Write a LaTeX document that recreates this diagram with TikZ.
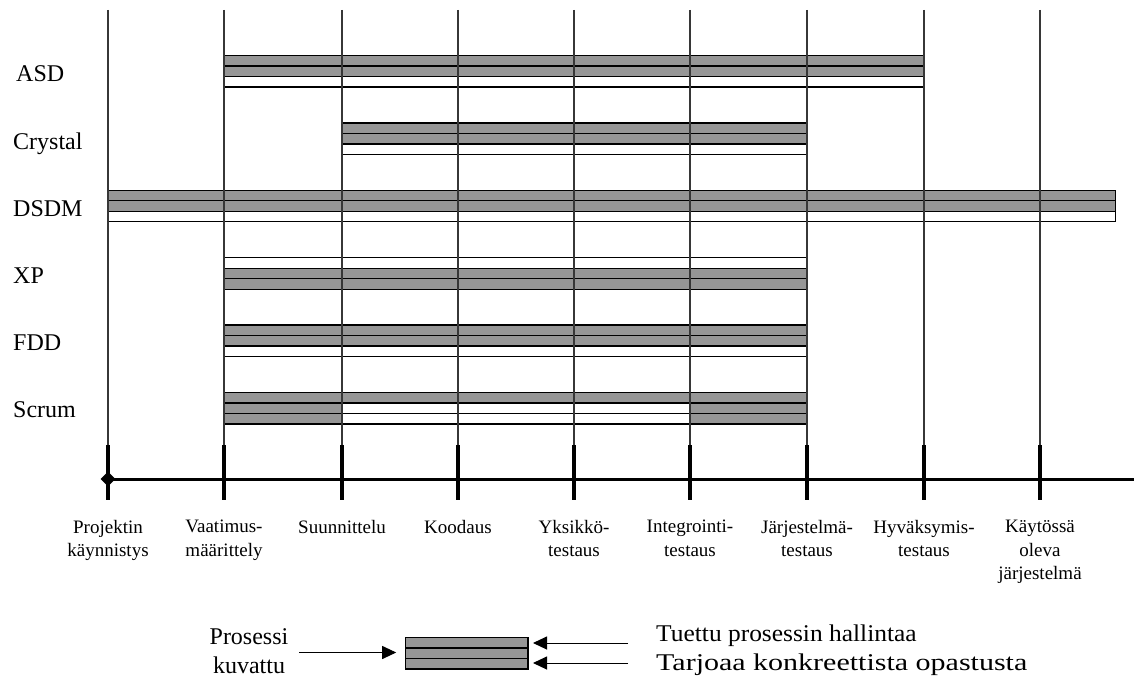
\documentclass[tikz,border=0pt]{standalone}
\usepackage{fontspec}
\setmainfont{Liberation Serif}
\usetikzlibrary{arrows.meta,shapes.geometric}
\definecolor{barfill}{RGB}{150,150,150}
\definecolor{gridline}{RGB}{55,55,55}

\begin{document}
\begin{tikzpicture}[x=1pt,y=-1pt,
  phase/.style={draw=gridline, line width=1.2pt},
  tickmark/.style={line width=3.5pt},
  axisline/.style={line width=3pt},
  cellon/.style={draw=black, line width=1.3pt, fill=barfill},
  celloff/.style={draw=black, line width=1.3pt, fill=white},
  method/.style={font=\fontsize{24}{29}\selectfont, anchor=base west, inner sep=0},
  phaselabel/.style={font=\fontsize{19}{23.5}\selectfont, align=center, anchor=north, inner sep=0},
  legendtext/.style={font=\fontsize{24}{29}\selectfont, inner sep=0},
  pointer/.style={line width=1pt, -{Triangle[length=14pt,width=13pt]}}
]
\useasboundingbox (0,0) rectangle (1134,682);

% phase positions
\foreach \i/\x in {0/108,1/224,2/342,3/458,4/574,5/690,6/807,7/924,8/1040}{
  \coordinate (top\i) at (\x,10);
  \coordinate (tk\i) at (\x,445);
  \coordinate (bt\i) at (\x,500);
}

% one stripe: x-from / x-to / top y / style
\def\stripeh{10.5}
\foreach \xa/\xb/\yt/\st in {
  % ASD
  224/924/55.5/cellon, 224/924/66/cellon, 224/924/76.5/celloff,
  % Crystal
  342/807/122.9/cellon, 342/807/133.4/cellon, 342/807/143.9/celloff,
  % DSDM
  108/1115.5/190.3/cellon, 108/1115.5/200.8/cellon, 108/1115.5/211.3/celloff,
  % XP
  224/807/257.7/celloff, 224/807/268.2/cellon, 224/807/278.7/cellon,
  % FDD
  224/807/325.1/cellon, 224/807/335.6/cellon, 224/807/346.1/celloff,
  % Scrum
  224/342/392.5/cellon, 224/342/403/cellon, 224/342/413.5/cellon,
  342/690/392.5/cellon, 342/690/403/celloff, 342/690/413.5/celloff,
  690/807/392.5/cellon, 690/807/403/cellon, 690/807/413.5/cellon}{
  \path[\st] (\xa,\yt) rectangle (\xb,\yt+\stripeh);
}

% phase lines and ticks
\foreach \i in {0,...,8}{
  \draw[phase] (top\i) -- (tk\i);
  \draw[tickmark] (tk\i) -- (bt\i);
}

% time axis
\coordinate (axL) at (108,479);
\coordinate (axR) at (1134,479);
\draw[axisline] (axL) -- (axR);
\node[diamond, fill=black, inner sep=0, minimum width=15pt, minimum height=15pt] (start) at (axL) {};

% method names
\node[method] (asd) at (16,82) {ASD};
\node[method] (crystal) at (13,149) {Crystal};
\node[method] (dsdm) at (13,216) {DSDM};
\node[method] (xp) at (13,283) {XP};
\node[method] (fdd) at (13,350) {FDD};
\node[method] (scrum) at (13,417) {Scrum};

% phase names
\node[phaselabel] (p0) at (108,520) {Projektin\\käynnistys};
\node[phaselabel] (p1) at (224,520) {Vaatimus-\\määrittely};
\node[phaselabel] (p2) at (342,520) {Suunnittelu};
\node[phaselabel] (p3) at (458,520) {Koodaus};
\node[phaselabel] (p4) at (574,520) {Yksikkö-\\testaus};
\node[phaselabel] (p5) at (690,520) {Integrointi-\\testaus};
\node[phaselabel] (p6) at (807,520) {Järjestelmä-\\testaus};
\node[phaselabel] (p7) at (924,520) {Hyväksymis-\\testaus};
\node[phaselabel] (p8) at (1040,520) {Käytössä\\oleva\\järjestelmä};

% legend
\foreach \yt in {637.3,647.9,658.5}{
  \path[cellon] (405.7,\yt) rectangle (528,\yt+10.6);
}
\coordinate (legW) at (405.7,652.5);
\coordinate (legE1) at (528,643);
\coordinate (legE2) at (528,663);
\node[legendtext, align=center, anchor=north] (proc) at (249,628) {Prosessi\\kuvattu};
\coordinate (a0) at (299,652.5);
\coordinate (a1) at (628,643);
\coordinate (a2) at (628,663);
\draw[pointer, shorten >=9.5pt] (a0) -- (legW);
\draw[pointer, shorten >=5pt] (a1) -- (legE1);
\draw[pointer, shorten >=5pt] (a2) -- (legE2);
\node[legendtext, anchor=base west] (t1) at (656,641) {\scalebox{1.06}[1]{Tuettu prosessin hallintaa}};
\node[legendtext, anchor=base west] (t2) at (656,670) {\scalebox{1.25}[1]{Tarjoaa konkreettista opastusta}};
\end{tikzpicture}
\end{document}
